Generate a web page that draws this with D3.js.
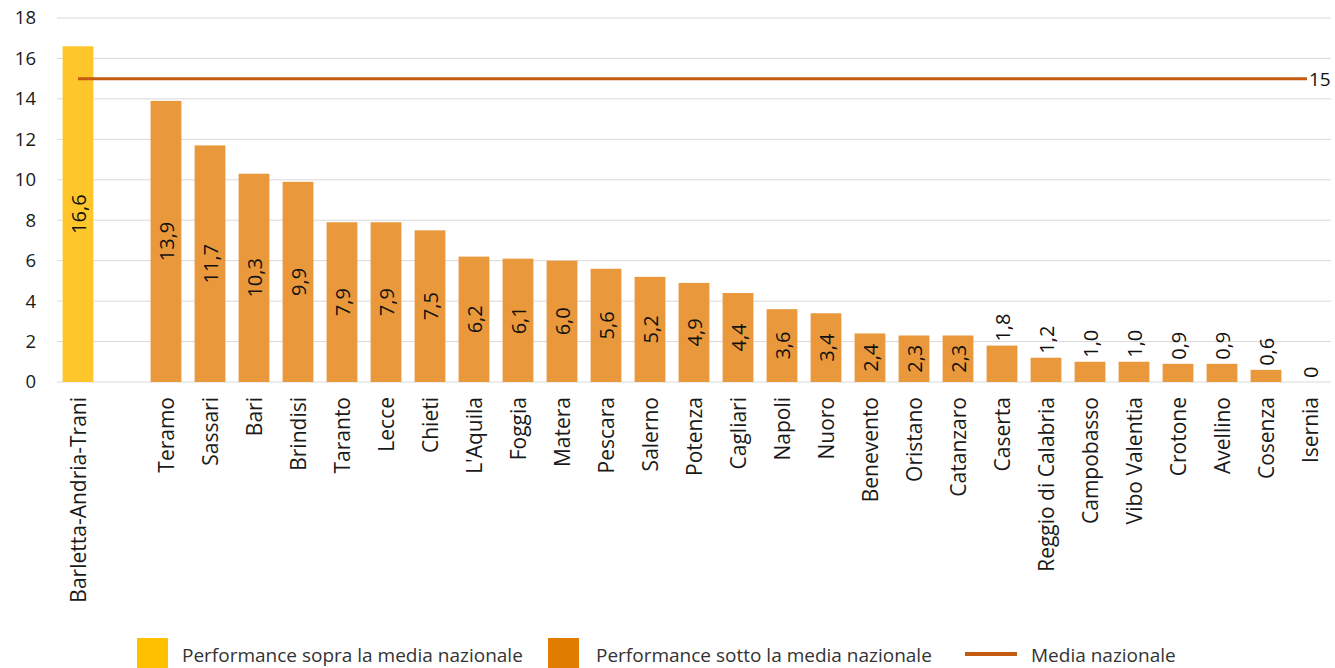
<!DOCTYPE html>
<html>
<head>
<meta charset="utf-8">
<script src="https://cdn.jsdelivr.net/npm/d3@7"></script>
<style>
  body { margin: 0; background: #fff; }
  text { font-family: "Open Sans", sans-serif; }
</style>
</head>
<body>
<div id="chart"></div>
<script>
// province names (the empty slot is the gap after the first bar)
var categories = ["Barletta-Andria-Trani", "", "Teramo", "Sassari", "Bari", "Brindisi", "Taranto",
    "Lecce", "Chieti", "L'Aquila", "Foggia", "Matera", "Pescara", "Salerno", "Potenza",
    "Cagliari", "Napoli", "Nuoro", "Benevento", "Oristano", "Catanzaro", "Caserta",
    "Reggio di Calabria", "Campobasso", "Vibo Valentia", "Crotone", "Avellino", "Cosenza", "Isernia"];
var values = [16.6, null, 13.9, 11.7, 10.3, 9.9, 7.9, 7.9, 7.5, 6.2, 6.1, 6.0, 5.6, 5.2, 4.9,
    4.4, 3.6, 3.4, 2.4, 2.3, 2.3, 1.8, 1.2, 1.0, 1.0, 0.9, 0.9, 0.6, 0];
var mediaNazionale = 15;
var yTicks = [0, 2, 4, 6, 8, 10, 12, 14, 16, 18];
var legendLabels = ["Performance sopra la media nazionale", "Performance sotto la media nazionale", "Media nazionale"];

var width = 1335, height = 668;
var colAbove = "#ffc62c", colBelow = "#e9993b", colLine = "#c55a11";

var svg = d3.select("#chart").append("svg")
    .attr("width", width)
    .attr("height", height);

var x = d3.scaleBand()
    .domain(d3.range(categories.length))
    .range([56, 1332])
    .paddingInner(0.3)
    .paddingOuter(0.15);

var y = d3.scaleLinear()
    .domain([0, 18])
    .range([382, 18]);

// gridlines
svg.append("g").selectAll("line")
    .data(yTicks)
    .enter().append("line")
    .attr("x1", 57).attr("x2", 1331)
    .attr("y1", function (d) { return y(d); })
    .attr("y2", function (d) { return y(d); })
    .attr("stroke", "#d9d9d9")
    .attr("stroke-width", 1);

// y axis labels
var yAxis = d3.axisLeft(y).tickValues(yTicks).tickSize(0).tickPadding(0);
var ya = svg.append("g").attr("transform", "translate(36,0)").call(yAxis);
ya.select(".domain").remove();
ya.selectAll("text")
    .style("font-family", "'Open Sans', sans-serif")
    .style("font-size", "18.5px")
    .attr("fill", "#1a1a1a");

// bars
var data = values.map(function (v, i) { return { i: i, v: v, name: categories[i] }; })
    .filter(function (d) { return d.v !== null; });

svg.append("g").selectAll("rect")
    .data(data)
    .enter().append("rect")
    .attr("x", function (d) { return x(d.i); })
    .attr("width", x.bandwidth())
    .attr("y", function (d) { return y(d.v); })
    .attr("height", function (d) { return y(0) - y(d.v); })
    .attr("fill", function (d) { return d.v > mediaNazionale ? colAbove : colBelow; });

// value labels, rotated; outside the bar when they do not fit
var fmt = function (v) { return v === 0 ? "0" : d3.format(".1f")(v).replace(".", ","); };
var labels = svg.append("g").selectAll("text")
    .data(data)
    .enter().append("text")
    .attr("font-size", "20px")
    .attr("fill", "#111")
    .attr("dominant-baseline", "central")
    .text(function (d) { return fmt(d.v); });

labels.each(function (d) {
    var t = d3.select(this);
    var len = this.getComputedTextLength();
    var cx = x(d.i) + x.bandwidth() / 2;
    var h = y(0) - y(d.v);
    if (len + 10 < h) {
        var cy = (y(d.v) + y(0)) / 2;
        t.attr("text-anchor", "middle")
            .attr("transform", "translate(" + cx + "," + cy + ") rotate(-90)");
    } else {
        t.attr("text-anchor", "start")
            .attr("transform", "translate(" + cx + "," + (y(d.v) - 4) + ") rotate(-90)");
    }
});

// category labels
var xAxis = d3.axisBottom(x).tickFormat(function (i) { return categories[i]; }).tickSize(0).tickPadding(0);
var xa = svg.append("g").attr("transform", "translate(0," + y(0) + ")").call(xAxis);
xa.select(".domain").remove();
xa.selectAll("text")
    .style("font-family", "'Open Sans', sans-serif")
    .style("font-size", "21px")
    .attr("fill", "#1a1a1a")
    .attr("text-anchor", "end")
    .attr("dominant-baseline", "central")
    .attr("dy", null)
    .attr("y", 0)
    .attr("transform", "translate(0,15) rotate(-90)");

// media nazionale line
var first = x(0) + x.bandwidth() / 2;
var last = x(categories.length - 1) + x.bandwidth() / 2 - 3;
svg.append("line")
    .attr("x1", first).attr("x2", last)
    .attr("y1", y(mediaNazionale)).attr("y2", y(mediaNazionale))
    .attr("stroke", colLine)
    .attr("stroke-width", 3);
svg.append("text")
    .attr("x", last + 2)
    .attr("y", y(mediaNazionale))
    .attr("dominant-baseline", "central")
    .attr("font-size", "19px")
    .attr("fill", "#111")
    .text(mediaNazionale);

// legend
var lg = svg.append("g").attr("font-size", "19px").attr("fill", "#333");
lg.append("rect").attr("x", 137).attr("y", 638).attr("width", 31).attr("height", 31).attr("fill", "#ffc000");
lg.append("text").attr("x", 182).attr("y", 662).text(legendLabels[0]);
lg.append("rect").attr("x", 548).attr("y", 638).attr("width", 31).attr("height", 31).attr("fill", "#e07c00");
lg.append("text").attr("x", 596).attr("y", 662).text(legendLabels[1]);
lg.append("line").attr("x1", 965).attr("x2", 1017).attr("y1", 654).attr("y2", 654)
    .attr("stroke", colLine).attr("stroke-width", 4);
lg.append("text").attr("x", 1031).attr("y", 662).text(legendLabels[2]);
</script>
</body>
</html>
